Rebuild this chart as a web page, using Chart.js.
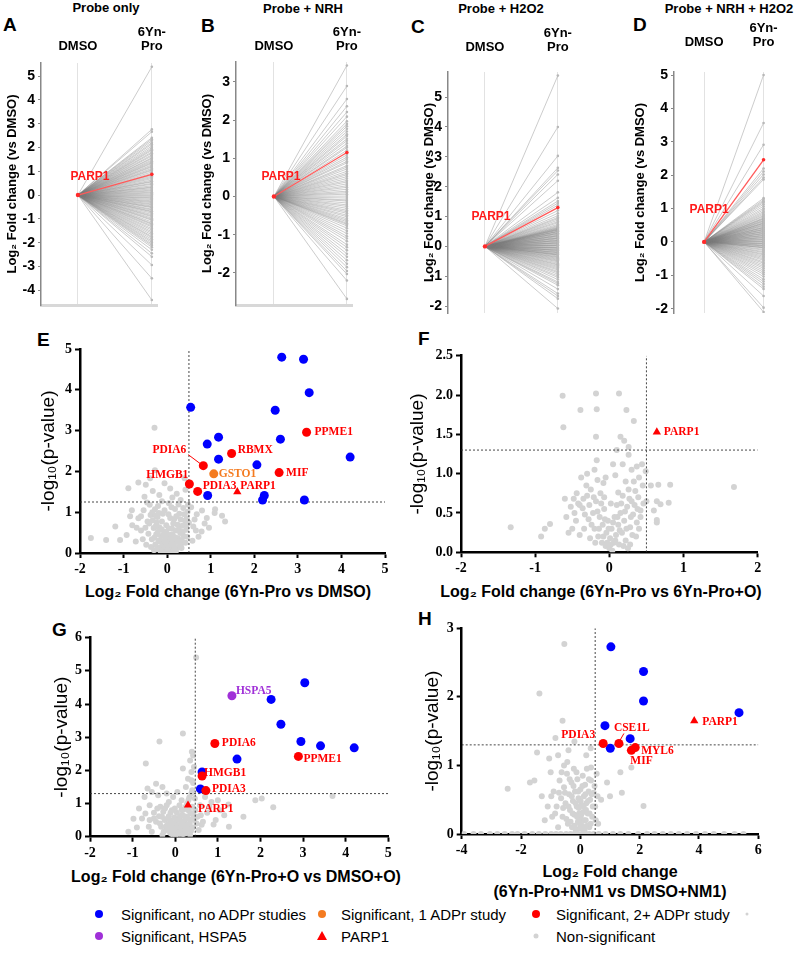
<!DOCTYPE html>
<html>
<head>
<meta charset="utf-8">
<script src="https://cdn.jsdelivr.net/npm/chart.js@4.4.1/dist/chart.umd.min.js"></script>
<style>
  body { margin: 0; background: #fff; }
  #page { position: relative; width: 800px; height: 961px; overflow: hidden; font-family: "Liberation Sans", Arial, sans-serif; }
  canvas { position: absolute; }
  .t { position: absolute; white-space: nowrap; line-height: 1; color: #000; }
  .title { font-weight: bold; font-size: 13px; transform: translateX(-50%); }
  .letter { font-weight: bold; font-size: 19px; }
  .xt { font-weight: bold; font-size: 16px; transform: translate(-50%, -50%); }
  .leg { font-size: 15px; transform: translateY(-50%); }
  .mk { position: absolute; border-radius: 50%; transform: translate(-50%, -50%); }
</style>
</head>
<body>
<div id="page">
  <div class="t title" style="left:106px;top:1px">Probe only</div>
  <div class="t title" style="left:303px;top:2px">Probe + NRH</div>
  <div class="t title" style="left:501px;top:2px">Probe + H2O2</div>
  <div class="t title" style="left:729px;top:2px">Probe + NRH + H2O2</div>

  <div class="t letter" style="left:3px;top:15px">A</div>
  <div class="t letter" style="left:201px;top:16px">B</div>
  <div class="t letter" style="left:411px;top:17px">C</div>
  <div class="t letter" style="left:633px;top:15px">D</div>
  <div class="t letter" style="left:37px;top:330px">E</div>
  <div class="t letter" style="left:418px;top:329px">F</div>
  <div class="t letter" style="left:52px;top:620px">G</div>
  <div class="t letter" style="left:418px;top:609px">H</div>

  <div class="t xt" style="left:228px;top:592px">Log₂ Fold change (6Yn-Pro vs DMSO)</div>
  <div class="t xt" style="left:601px;top:592px">Log₂ Fold change (6Yn-Pro vs 6Yn-Pro+O)</div>
  <div class="t xt" style="left:236px;top:877px">Log₂ Fold change (6Yn-Pro+O vs DMSO+O)</div>
  <div class="t xt" style="left:610px;top:872px">Log₂ Fold change</div>
  <div class="t xt" style="left:610px;top:892px">(6Yn-Pro+NM1 vs DMSO+NM1)</div>

  <!-- legend -->
  <div class="mk" style="left:99px;top:914px;width:8px;height:8px;background:#0000ff"></div>
  <div class="t leg" style="left:121px;top:914px">Significant, no ADPr studies</div>
  <div class="mk" style="left:322px;top:914px;width:8px;height:8px;background:#f47b20"></div>
  <div class="t leg" style="left:341px;top:914px">Significant, 1 ADPr study</div>
  <div class="mk" style="left:536px;top:914px;width:8px;height:8px;background:#ff0000"></div>
  <div class="t leg" style="left:556px;top:914px">Significant, 2+ ADPr study</div>
  <div class="mk" style="left:747px;top:914px;width:3px;height:3px;background:#d3d3d3"></div>
  <div class="mk" style="left:99px;top:936px;width:8px;height:8px;background:#a030d8"></div>
  <div class="t leg" style="left:121px;top:936px">Significant, HSPA5</div>
  <div style="position:absolute;left:317px;top:931px;width:0;height:0;border-left:5px solid transparent;border-right:5px solid transparent;border-bottom:9px solid #ff0000"></div>
  <div class="t leg" style="left:341px;top:936px">PARP1</div>
  <div class="mk" style="left:536px;top:936px;width:5px;height:5px;background:#d3d3d3"></div>
  <div class="t leg" style="left:556px;top:936px">Non-significant</div>
</div>

<script>
// ---------- data: top row, 6Yn-Pro end values (log2 FC vs DMSO) ----------
const colTicks = [0, 1];
const colNames = ['DMSO', ['6Yn-', 'Pro']];

const aVals = [5.39, 2.76, 2.66, 2.41, 2.35, 2.28, 2.2, 2.14, 2.06, 1.99, 1.93, 1.88, 1.81, 1.76, 1.69, 1.64, 1.57, 1.53,
  1.47, 1.42, 1.37, 1.33, 1.27, 1.22, 1.18, 1.12, 1.07, 1.03, 0.97, 0.91, 0.84, 0.79, 0.74, 0.69, 0.63, 0.58, 0.55,
  0.49, 0.45, 0.39, 0.34, 0.31, 0.26, 0.21, 0.17, 0.12, 0.08, 0.03, -0.02, -0.06, -0.11, -0.14, -0.19, -0.24, -0.28,
  -0.32, -0.37, -0.41, -0.46, -0.5, -0.53, -0.59, -0.63, -0.68, -0.71, -0.76, -0.82, -0.87, -0.91, -0.97, -1.02,
  -1.06, -1.13, -1.19, -1.23, -1.29, -1.34, -1.41, -1.47, -1.54, -1.6, -1.67, -1.74, -1.79, -1.86, -1.93, -1.99,
  -2.06, -2.12, -2.19, -2.3, -2.45, -2.59, -2.94, -3.5, -4.41];
const aParp = 0.87;

const bVals = [3.43, 2.89, 2.55, 2.36, 2.21, 2.09, 1.97, 1.9, 1.84, 1.77, 1.7, 1.63, 1.58, 1.51, 1.46, 1.39, 1.32, 1.28,
  1.21, 1.09, 1.03, 0.98, 0.92, 0.88, 0.81, 0.77, 0.72, 0.66, 0.61, 0.57, 0.52, 0.47, 0.42, 0.38, 0.33, 0.28, 0.24,
  0.19, 0.14, 0.1, 0.06, 0.01, -0.04, -0.09, -0.12, -0.17, -0.22, -0.26, -0.31, -0.36, -0.4, -0.44, -0.49, -0.53,
  -0.58, -0.62, -0.66, -0.7, -0.73, -0.77, -0.83, -0.9, -0.97, -1.04, -1.1, -1.17, -1.26, -1.33, -1.41, -1.5, -1.58,
  -1.67, -1.76, -1.85, -1.95, -2.03, -2.2, -2.68];
const bParp = 1.15;

const cVals = [5.72, 4.0, 3.03, 2.63, 2.54, 2.41, 2.2, 1.81, 1.63, 1.52, 1.45, 1.38, 1.2, 1.11, 1.03, 0.97, 0.93, 0.88,
  0.83, 0.79, 0.74, 0.7, 0.67, 0.64, 0.62, 0.6, 0.58, 0.57, 0.55, 0.54, 0.51, 0.5, 0.49, 0.46, 0.44, 0.43, 0.41, 0.38,
  0.36, 0.35, 0.33, 0.3, 0.28, 0.27, 0.25, 0.22, 0.2, 0.19, 0.17, 0.14, 0.12, 0.11, 0.09, 0.06, 0.04, 0.03, 0.01, -0.02,
  -0.04, -0.05, -0.07, -0.1, -0.12, -0.13, -0.15, -0.18, -0.2, -0.21, -0.24, -0.26, -0.28, -0.29, -0.32, -0.35, -0.37,
  -0.4, -0.43, -0.46, -0.49, -0.52, -0.56, -0.6, -0.63, -0.67, -0.71, -0.75, -0.79, -0.84, -0.88, -0.93, -0.99, -1.04,
  -1.11, -1.19, -1.24, -1.3, -1.43, -1.58, -1.66, -1.75, -2.08];
const cParp = 1.3;

const dVals = [5.0, 3.56, 2.91, 2.2, 2.11, 2.02, 1.93, 1.87, 1.31, 1.26, 1.22, 1.18, 1.13, 1.07, 1.01, 0.96, 0.91, 0.87,
  0.83, 0.79, 0.76, 0.72, 0.7, 0.68, 0.65, 0.63, 0.61, 0.58, 0.56, 0.55, 0.52, 0.5, 0.48, 0.45, 0.43, 0.42, 0.39, 0.37,
  0.36, 0.33, 0.31, 0.3, 0.27, 0.25, 0.24, 0.21, 0.19, 0.18, 0.15, 0.13, 0.12, 0.09, 0.07, 0.06, 0.03, 0.01, 0.0,
  -0.03, -0.05, -0.06, -0.09, -0.11, -0.12, -0.15, -0.17, -0.18, -0.22, -0.25, -0.29, -0.32, -0.36, -0.39, -0.43,
  -0.47, -0.51, -0.55, -0.6, -0.64, -0.69, -0.74, -0.79, -0.85, -0.91, -0.97, -1.04, -1.12, -1.19, -1.26, -1.34,
  -1.41, -1.62, -1.97, -2.1];
const dParp = 2.46;

// ---------- data: volcano plots [log2 FC, -log10 p] ----------
const eBlue = [[2.63, 4.8], [3.13, 4.75], [3.26, 3.93], [2.48, 3.5], [0.54, 3.57], [1.18, 2.84], [0.92, 2.67], [2.6, 2.79],
  [1.18, 2.3], [2.06, 2.16], [4.2, 2.35], [0.93, 1.41], [2.23, 1.41], [2.19, 1.3], [3.15, 1.3]];
const eRed = [['PDIA6', 0.83, 2.14], ['RBMX', 1.48, 2.44], ['PPME1', 3.2, 2.96], ['MIF', 2.57, 1.97], ['HMGB1', 0.51, 1.69], ['PDIA3', 0.7, 1.51]];
const eOrange = [['GSTO1', 1.07, 1.94]];
const eParp = [1.61, 1.5];
const eGray = [[-0.29, 3.07], [-0.28, 2.03], [-0.66, 1.73], [-0.89, 1.59], [-0.49, 1.67], [-0.39, 1.83], [-0.06, 1.71],
  [0.07, 1.58], [0.4, 1.83], [0.42, 1.55], [-0.33, 1.52], [-0.18, 1.42], [0.22, 1.45], [0.31, 1.3], [-0.52, 1.38],
  [-0.12, 1.27], [0.12, 1.36], [-1.75, 0.37], [-1.4, 0.32], [-1.19, 0.65], [-1.08, 0.32], [-0.81, 1.05], [-0.66, 0.85],
  [-0.54, 1.05], [-0.28, 1.07], [-0.45, 0.77], [-0.24, 0.75], [-0.8, 0.68], [-0.93, 0.44], [-0.72, 0.28], [-0.6, 0.55],
  [-0.85, 0.9], [-0.4, 1.18], [0.8, 1.04], [0.91, 0.86], [1.1, 1.07], [1.09, 0.98], [1.26, 0.91], [1.33, 0.77], [0.6, 0.65],
  [0.79, 0.53], [0.45, 0.85], [0.68, 0.95], [0.55, 1.12], [0.96, 0.62], [0.72, 0.4], [0.63, 0.82], [0.86, 0.72],
  [-0.5, 0.62], [-0.43, 0.47], [-0.38, 0.93], [-0.35, 0.34], [-0.31, 0.61], [-0.27, 0.21], [-0.25, 0.46], [-0.22, 0.88],
  [-0.2, 0.3], [-0.18, 0.63], [-0.16, 0.14], [-0.14, 0.41], [-0.12, 0.77], [-0.1, 0.24], [-0.08, 0.09], [-0.07, 0.53],
  [-0.05, 0.18], [-0.04, 0.36], [-0.02, 0.05], [0, 0.13], [0.02, 0.27], [0.03, 0.02], [0.05, 0.21], [0.06, 0.44],
  [0.08, 0.1], [0.1, 0.33], [0.11, 0.6], [0.13, 0.16], [0.15, 0.39], [0.16, 0.83], [0.18, 0.26], [0.2, 0.55], [0.22, 0.12],
  [0.24, 0.69], [0.25, 0.36], [0.28, 0.96], [0.3, 0.49], [0.32, 0.22], [0.35, 0.67], [0.37, 1.1], [0.38, 0.41],
  [0.41, 0.79], [0.44, 0.57], [0.47, 1.01], [0.5, 0.74], [-0.46, 1.24], [-0.21, 1.15], [0.04, 1.22], [0.18, 1.08],
  [-0.1, 0.96], [0.26, 1.19], [-0.56, 0.34], [-0.3, 0.07], [0.12, 0.03], [-0.15, 0.04], [0.2, 0.04], [-0.02, 0.68],
  [0.07, 0.86], [-0.33, 0.8], [0.33, 0.12], [-0.48, 0.2], [-0.41, 0.72], [-0.37, 0.15], [-0.34, 1.0], [-0.29, 0.38],
  [-0.26, 0.66], [-0.23, 0.1], [-0.21, 0.52], [-0.19, 0.98], [-0.17, 0.28], [-0.13, 0.58], [-0.11, 0.06], [-0.09, 0.44],
  [-0.06, 0.3], [-0.03, 0.15], [-0.01, 0.48], [0.01, 0.08], [0.04, 0.6], [0.07, 0.35], [0.09, 0.2], [0.12, 0.46],
  [0.14, 0.72], [0.17, 0.12], [0.19, 0.38], [0.21, 0.9], [0.23, 0.28], [0.27, 0.58], [0.29, 0.18], [0.31, 0.82],
  [0.34, 0.3], [0.36, 0.52], [0.39, 0.95], [0.42, 0.25], [0.45, 0.7], [0.48, 1.18], [0.03, 0.95], [-0.06, 1.05],
  [0.1, 1.12], [-0.26, 0.92], [0.46, 0.4], [-0.6, 0.9], [-0.7, 0.62], [0.58, 0.3], [0.66, 0.55]];

const fParp = [0.64, 1.53];
const fGray = [[-0.63, 1.99], [-0.18, 2.02], [0.13, 2.02], [-0.39, 1.81], [-0.17, 1.82], [0.23, 1.81], [0.33, 1.67],
  [-0.62, 1.59], [-0.18, 1.47], [0.15, 1.47], [0.2, 1.42], [0.26, 1.34], [0.26, 1.24], [1.68, 0.83], [-0.17, 1.17],
  [-1.33, 0.32], [-0.87, 0.3], [-0.92, 0.2], [-0.8, 0.36], [0.56, 0.85], [0.66, 0.86], [0.82, 0.86], [0.64, 0.65],
  [0.69, 0.61], [0.8, 0.63], [0.6, 0.53], [0.64, 0.41], [0.64, 0.38], [0.5, 0.65], [0.42, 0.53], [0.44, 1.12], [0.37, 1.09],
  [0.49, 1.03], [0.33, 0.9], [0.1, 1.3], [0.05, 1.12], [-0.48, 0.68], [-0.42, 0.62], [-0.36, 0.56], [-0.3, 0.72],
  [-0.28, 0.42], [-0.25, 0.8], [-0.22, 0.5], [-0.2, 0.3], [-0.18, 0.65], [-0.15, 0.2], [-0.13, 0.45], [-0.1, 0.12],
  [-0.09, 0.35], [-0.07, 0.55], [-0.05, 0.08], [-0.04, 0.25], [-0.02, 0.4], [0, 0.05], [0.01, 0.18], [0.03, 0.3],
  [0.04, 0.02], [0.06, 0.12], [0.07, 0.45], [0.09, 0.22], [0.1, 0.6], [0.12, 0.35], [0.13, 0.1], [0.15, 0.5], [0.17, 0.25],
  [0.18, 0.72], [0.2, 0.4], [0.22, 0.15], [0.24, 0.58], [0.26, 0.8], [0.28, 0.32], [0.3, 0.65], [0.32, 0.48], [0.35, 0.78],
  [0.38, 0.55], [0.4, 0.3], [-0.38, 0.95], [-0.3, 1.0], [-0.2, 1.05], [-0.05, 0.95], [0.08, 0.98], [0.12, 0.76],
  [-0.12, 0.75], [-0.45, 0.4], [-0.52, 0.58], [-0.6, 0.68], [-0.34, 0.3], [-0.26, 0.18], [0.28, 0.1], [0.36, 0.2],
  [-0.08, 0.88], [0.02, 0.62], [-0.16, 0.92], [0.22, 0.9], [0.3, 1.05], [0.18, 1.12], [-0.55, 0.25], [-0.4, 0.22],
  [0.25, 0.05], [-0.07, 0.7], [-0.47, 0.5], [-0.44, 0.75], [-0.4, 0.6], [-0.33, 0.48], [-0.31, 0.85], [-0.27, 0.6],
  [-0.24, 0.35], [-0.21, 0.7], [-0.19, 0.12], [-0.16, 0.52], [-0.14, 0.3], [-0.11, 0.62], [-0.08, 0.2], [-0.06, 0.42],
  [-0.03, 0.12], [-0.01, 0.3], [0.02, 0.1], [0.05, 0.38], [0.08, 0.15], [0.11, 0.45], [0.14, 0.28], [0.16, 0.62],
  [0.19, 0.08], [0.21, 0.52], [0.23, 0.3], [0.27, 0.68], [0.29, 0.45], [0.31, 0.22], [0.34, 0.6], [0.37, 0.38],
  [0.39, 0.7], [0.42, 0.45], [0.45, 0.85], [-0.58, 0.45], [-0.5, 0.3], [-0.35, 0.68], [0.4, 0.95], [0.46, 0.62]];

const gBlue = [[3.04, 4.64], [2.25, 4.14], [2.48, 3.39], [2.95, 2.87], [3.41, 2.74], [4.2, 2.68], [1.45, 2.34], [0.63, 1.95], [0.59, 1.44]];
const gRed = [['PDIA6', 0.93, 2.81], ['PPME1', 2.89, 2.42], ['HMGB1', 0.63, 1.83], ['PDIA3', 0.72, 1.39]];
const gPurple = [['HSPA5', 1.33, 4.25]];
const gParp = [0.3, 0.95];
const gGray = [[0.49, 5.4], [0.18, 3.11], [-0.37, 2.87], [-0.69, 2.21], [0.18, 2.06], [0.39, 2.56], [3.69, 1.23],
  [2.03, 1.15], [1.88, 1.1], [2.3, 0.89], [1.25, 0.97], [-0.98, 0.54], [1.26, 0.3], [0.9, 0.37], [0.35, 2.3], [0.42, 2.45],
  [0.38, 1.95], [0.3, 1.75], [0.42, 1.62], [0.25, 1.5], [0.4, 1.4], [0.33, 1.18], [-0.65, 1.45], [-0.72, 1.2],
  [-0.55, 1.35], [-0.45, 1.6], [-0.4, 1.25], [-0.3, 1.5], [-0.85, 0.85], [-0.6, 0.95], [-0.5, 0.72], [-0.78, 0.55],
  [-0.35, 0.9], [-0.2, 1.3], [-0.15, 1.05], [-0.05, 1.2], [0.05, 1.35], [0.15, 1.1], [0.7, 1.2], [0.85, 1.05], [1.05, 0.8],
  [0.95, 0.5], [1.15, 0.65], [0.75, 0.72], [1.6, 0.6], [0.62, 0.36], [0.8, 0.9], [1.0, 1.1], [0.58, 0.95], [-0.45, 0.45],
  [-0.38, 0.62], [-0.33, 0.3], [-0.28, 0.75], [-0.25, 0.5], [-0.22, 0.2], [-0.2, 0.95], [-0.17, 0.38], [-0.15, 0.62],
  [-0.12, 0.12], [-0.1, 0.48], [-0.08, 0.8], [-0.06, 0.28], [-0.04, 0.05], [-0.02, 0.58], [0, 0.16], [0.02, 0.36],
  [0.04, 0.72], [0.05, 0.08], [0.07, 0.25], [0.09, 0.5], [0.1, 0.95], [0.12, 0.15], [0.14, 0.38], [0.16, 0.66],
  [0.18, 0.22], [0.2, 0.82], [0.22, 0.45], [0.24, 0.1], [0.26, 0.6], [0.28, 1.0], [0.3, 0.32], [0.32, 0.78], [0.35, 0.52],
  [0.37, 0.18], [0.4, 0.9], [0.43, 0.65], [0.46, 1.15], [0.5, 0.4], [-0.55, 0.15], [-0.62, 0.3], [-0.3, 0.05],
  [0.15, 0.02], [0.35, 0.05], [0.55, 0.2], [-0.9, 0.28], [-1.1, 0.15], [-0.5, 0.55], [-0.42, 0.85], [-0.36, 0.4],
  [-0.31, 0.6], [-0.27, 0.15], [-0.24, 0.85], [-0.21, 0.32], [-0.18, 0.55], [-0.14, 0.25], [-0.11, 0.72], [-0.09, 0.08],
  [-0.07, 0.4], [-0.03, 0.22], [-0.01, 0.85], [0.01, 0.05], [0.03, 0.5], [0.06, 0.32], [0.08, 0.12], [0.11, 0.6],
  [0.13, 0.28], [0.15, 0.82], [0.17, 0.45], [0.19, 0.08], [0.21, 0.62], [0.23, 0.3], [0.25, 0.9], [0.27, 0.2],
  [0.29, 0.55], [0.31, 1.1], [0.34, 0.4], [0.36, 0.7], [0.38, 1.3], [0.41, 0.28], [0.44, 0.5], [0.47, 0.8], [0.52, 0.6],
  [0.6, 0.65], [0.65, 0.45], [-0.7, 0.7], [-0.6, 0.5], [0.38, 1.7], [0.44, 2.1]];

const hBlue = [[1.03, 2.73], [2.13, 2.37], [2.13, 1.94], [5.35, 1.77], [0.83, 1.58], [1.68, 1.39], [1.01, 1.25]];
const hRed = [['PDIA3', 0.77, 1.32], ['CSE1L', 1.3, 1.32], ['MYL6', 1.85, 1.26], ['MIF', 1.72, 1.22]];
const hParp = [3.84, 1.65];
const hGray = [[-0.54, 2.77], [-1.38, 2.05], [-0.6, 1.65], [-0.84, 1.4], [-1.46, 1.19], [-2.45, 0.66], [2.13, 0.41],
  [1.35, 0.9], [1.72, 0.97], [0.36, 0.97], [-1.7, 0.75], [-1.55, 0.78], [-1.3, 0.55], [-1.0, 0.9], [-1.05, 1.1],
  [-0.75, 1.15], [1.0, 0.55], [1.4, 0.6], [0.9, 0.75], [-0.2, 1.35], [-0.4, 1.22], [0.2, 1.15], [0.35, 1.25], [-0.55, 1.0],
  [-0.9, 0.62], [-0.8, 0.4], [-0.7, 0.78], [-0.65, 0.52], [-0.6, 0.25], [-0.55, 0.68], [-0.5, 0.45], [-0.45, 0.88],
  [-0.42, 0.15], [-0.38, 0.58], [-0.35, 0.35], [-0.3, 0.75], [-0.28, 0.1], [-0.25, 0.48], [-0.22, 0.95], [-0.2, 0.28],
  [-0.18, 0.62], [-0.15, 0.05], [-0.12, 0.4], [-0.1, 0.8], [-0.08, 0.18], [-0.06, 0.52], [-0.04, 0.3], [-0.02, 0.08],
  [0, 0.65], [0.02, 0.22], [0.04, 0.42], [0.06, 0.12], [0.08, 0.85], [0.1, 0.32], [0.12, 0.55], [0.14, 0.05], [0.16, 0.72],
  [0.18, 0.2], [0.2, 0.45], [0.22, 0.95], [0.25, 0.3], [0.28, 0.62], [0.3, 0.1], [0.33, 0.5], [0.36, 0.78], [0.4, 0.25],
  [0.45, 0.6], [0.5, 0.4], [0.55, 0.88], [0.6, 0.15], [0.7, 0.5], [-0.95, 0.25], [-1.1, 0.4], [-0.75, 0.1],
  [-0.85, 0.3], [-0.72, 0.6], [-0.63, 0.9], [-0.58, 0.38], [-0.52, 0.6], [-0.47, 0.22], [-0.44, 1.05], [-0.4, 0.4],
  [-0.36, 0.8], [-0.33, 0.18], [-0.29, 0.55], [-0.26, 0.3], [-0.23, 0.7], [-0.19, 0.12], [-0.16, 0.45], [-0.13, 0.9],
  [-0.11, 0.25], [-0.07, 0.62], [-0.05, 0.38], [-0.01, 0.15], [0.01, 0.48], [0.03, 0.28], [0.07, 0.7], [0.09, 0.08],
  [0.11, 0.4], [0.13, 0.2], [0.17, 0.58], [0.19, 0.35], [0.23, 0.12], [0.26, 0.48], [0.29, 0.8], [0.31, 0.3],
  [0.35, 0.15], [0.38, 0.58], [0.42, 0.4], [0.48, 0.7], [0.52, 0.2], [0.58, 0.55], [-1.2, 0.2], [-0.98, 0.55],
  [-3.92, 0], [-3.6, 0], [-3.35, 0], [-3.05, 0], [-2.8, 0], [-2.55, 0], [-2.3, 0], [-2.12, 0], [-1.88, 0], [-1.62, 0],
  [-1.4, 0], [-1.18, 0], [-0.98, 0], [-0.82, 0], [-0.66, 0], [-0.48, 0], [-0.33, 0], [-0.2, 0], [-0.08, 0], [0.05, 0],
  [0.18, 0], [0.3, 0], [0.45, 0], [0.62, 0], [0.85, 0], [1.1, 0], [1.35, 0], [1.62, 0], [1.95, 0], [2.25, 0], [2.5, 0],
  [2.78, 0], [3.05, 0], [3.32, 0], [3.6, 0], [3.9, 0], [4.2, 0], [4.5, 0], [4.85, 0], [5.2, 0], [5.5, 0]];

// ---------- styling ----------
const RED = '#ff0000', BLUE = '#0000ff', ORANGE = '#f47b20', PURPLE = '#a030d8', GRAY = '#d3d3d3';
Chart.defaults.font.family = '"Liberation Sans", Arial, sans-serif';

// text next to data points (protein names)
Chart.register({
  id: 'pointLabels',
  afterDatasetsDraw(chart, args, opts) {
    if (!opts || !opts.items) return;
    const { ctx } = chart;
    const xs = chart.scales.x, ys = chart.scales.y;
    ctx.save();
    ctx.font = opts.font;
    ctx.textBaseline = 'middle';
    opts.items.forEach(it => {
      const px = xs.getPixelForValue(it.x), py = ys.getPixelForValue(it.y);
      ctx.fillStyle = it.color;
      ctx.textAlign = it.align || 'left';
      ctx.fillText(it.text, px + it.dx, py + it.dy);
      if (it.leader) {
        ctx.strokeStyle = it.color;
        ctx.lineWidth = 1;
        ctx.beginPath();
        ctx.moveTo(px + it.leader[0], py + it.leader[1]);
        ctx.lineTo(px + it.leader[2], py + it.leader[3]);
        ctx.stroke();
      }
    });
    ctx.restore();
  }
});

function addCanvas(L, T, W, H) {
  const c = document.createElement('canvas');
  c.width = W; c.height = H;
  c.style.left = L + 'px'; c.style.top = T + 'px';
  c.style.width = W + 'px'; c.style.height = H + 'px';
  document.getElementById('page').appendChild(c);
  return c;
}

/******** top row: DMSO -> 6Yn-Pro lines */
function slopePanel(g, vals, parp) {
  const [L, T, W, H] = g.box;
  const [pl, pt, pr, pb] = g.plot;
  const sets = vals.map(v => ({
    data: [{ x: 0, y: 0 }, { x: 1, y: v }],
    showLine: true,
    borderColor: 'rgba(120,120,120,0.38)',
    borderWidth: 1,
    pointRadius: [0, 1.3],
    pointBackgroundColor: '#b8b8b8',
    pointBorderWidth: 0
  }));
  sets.push({
    data: [{ x: 0, y: 0 }, { x: 1, y: parp }],
    showLine: true, borderColor: '#ff5a5a', borderWidth: 1.3,
    pointRadius: [2.2, 1.8], pointBackgroundColor: '#ff2a2a', pointBorderWidth: 0, order: -1
  });
  new Chart(addCanvas(L, T, W, H), {
    type: 'scatter',
    data: { datasets: sets },
    options: {
      responsive: false, animation: false, devicePixelRatio: 1,
      layout: { padding: { left: 0, top: 0, bottom: 0, right: L + W - pr } },
      plugins: {
        legend: { display: false }, tooltip: { enabled: false },
        pointLabels: {
          font: 'bold 12px "Liberation Sans"',
          items: [{ text: 'PARP1', x: 0, y: 0, color: '#ff1a1a', align: 'center', dx: g.lab[0], dy: g.lab[1] }]
        }
      },
      scales: {
        x: {
          type: 'linear', position: 'top', min: g.xMin, max: 1.07,
          afterBuildTicks: s => { s.ticks = colTicks.map(v => ({ value: v })); },
          afterFit: s => { s.height = pt - T; },
          ticks: {
            callback: (v, i) => colNames[i], color: '#000', padding: g.tickPad, maxRotation: 0, autoSkip: false,
            font: { size: 13, weight: 'bold', lineHeight: 1.1 }
          },
          grid: { color: '#e2e2e2', lineWidth: 1, drawTicks: false },
          border: { display: false }
        },
        x2: {
          type: 'linear', position: 'bottom', min: g.xMin, max: 1.07,
          afterFit: s => { s.height = T + H - pb; },
          ticks: { display: false }, grid: { display: false },
          border: { display: g.bottomLine, color: '#d8d8d8', width: 3 }
        },
        y: {
          type: 'linear', min: g.yMin, max: g.yMax,
          afterFit: s => { s.width = pl - L; },
          ticks: { stepSize: 1, includeBounds: false, color: '#000', padding: 3, font: { size: 14, weight: 'bold' } },
          grid: { drawOnChartArea: false, tickLength: 3, tickColor: '#888', tickWidth: 1 },
          border: { color: '#888', width: 1.5 },
          title: { display: true, text: 'Log₂ Fold change (vs DMSO)', color: '#000', padding: { top: 2, bottom: 0 }, font: { size: 13, weight: 'bold' } }
        }
      }
    }
  });
}

slopePanel({ box: [3, 20, 177, 300], plot: [41, 63, 157, 305], xMin: -0.5, yMin: -4.62, yMax: 5.55, tickPad: 9, lab: [12, -18], bottomLine: true }, aVals, aParp);
slopePanel({ box: [198, 20, 177, 300], plot: [236, 62, 352, 305], xMin: -0.52, yMin: -2.84, yMax: 3.52, tickPad: 8, lab: [7, -20], bottomLine: true }, bVals, bParp);
slopePanel({ box: [420, 20, 170, 310], plot: [448, 72, 566, 313], xMin: -0.507, yMin: -2.23, yMax: 5.84, tickPad: 17, lab: [6, -30], bottomLine: false }, cVals, cParp);
slopePanel({ box: [631, 20, 169, 310], plot: [674, 72, 792, 313], xMin: -0.507, yMin: -2.13, yMax: 5.09, tickPad: 22, lab: [5, -32], bottomLine: false }, dVals, dParp);

/******** volcano plots */
const pts = arr => arr.map(p => ({ x: p[p.length - 2], y: p[p.length - 1] }));

function labelItems(list, color, place) {
  return list.map(([name, x, y]) => Object.assign({ text: name, x, y, color, dx: 6, dy: 0 }, place[name] || {}));
}

function volcano(g, c) {
  const [L, T, W, H] = g.box;
  const [pl, pt, pr, pb] = g.plot;
  const dot = (data, color, r) => ({ data: pts(data), backgroundColor: color, pointRadius: r, pointBorderWidth: 0, order: 1 });
  const sets = [];
  if (c.purple) sets.push(dot(c.purple, PURPLE, 4.5));
  if (c.orange) sets.push(dot(c.orange, ORANGE, 4.5));
  if (c.red) sets.push(dot(c.red, RED, 4.5));
  if (c.blue) sets.push(dot(c.blue, BLUE, 4.5));
  sets.push({ data: [{ x: c.parp[0], y: c.parp[1] }], backgroundColor: RED, pointStyle: 'triangle', pointRadius: 4.8, pointBorderWidth: 0, order: 0 });
  const dash = { showLine: true, pointRadius: 0, borderColor: 'rgba(40,40,40,0.85)', borderWidth: 1, borderDash: [2, 2], order: 5 };
  sets.push(Object.assign({ data: [{ x: c.thrX, y: c.yMin }, { x: c.thrX, y: c.yMax }] }, dash));
  sets.push(Object.assign({ data: [{ x: c.xMin, y: c.thrY }, { x: c.xMax, y: c.thrY }] }, dash));
  sets.push({ data: pts(c.gray), backgroundColor: GRAY, pointRadius: 3, pointBorderWidth: 0, order: 10 });

  let items = [];
  if (c.red) items = items.concat(labelItems(c.red, RED, c.place));
  if (c.orange) items = items.concat(labelItems(c.orange, ORANGE, c.place));
  if (c.purple) items = items.concat(labelItems(c.purple, PURPLE, c.place));
  items = items.concat(labelItems([['PARP1', c.parp[0], c.parp[1]]], RED, c.place));

  const tickFont = { family: '"Liberation Serif", "Times New Roman", serif', size: 14, weight: 'bold' };
  new Chart(addCanvas(L, T, W, H), {
    type: 'scatter',
    data: { datasets: sets },
    options: {
      responsive: false, animation: false, devicePixelRatio: 1,
      layout: { padding: { left: 0, bottom: 0, top: pt - T, right: L + W - pr } },
      plugins: {
        legend: { display: false }, tooltip: { enabled: false },
        pointLabels: { font: 'bold 11.5px "Liberation Serif"', items }
      },
      scales: {
        x: {
          type: 'linear', min: c.xMin, max: c.xMax,
          afterFit: s => { s.height = T + H - pb; },
          ticks: { stepSize: c.xStep, color: '#000', padding: 3, font: tickFont },
          grid: { drawOnChartArea: false, tickLength: 5, tickWidth: 2, tickColor: '#000' },
          border: { color: '#000', width: 2.5 }
        },
        y: {
          type: 'linear', min: c.yMin, max: c.yMax,
          afterFit: s => { s.width = pl - L; },
          ticks: { stepSize: c.yStep, color: '#000', padding: 3, font: tickFont, callback: c.yFmt || (v => v) },
          grid: { drawOnChartArea: false, tickLength: 5, tickWidth: 2, tickColor: '#000' },
          border: { color: '#000', width: 2.5 },
          title: { display: true, text: '-log₁₀(p-value)', color: '#000', padding: { top: 2, bottom: 0 }, font: { size: 19 } }
        }
      }
    }
  });
}

volcano({ box: [35, 335, 363, 245], plot: [80, 349, 385, 553] }, {
  xMin: -2, xMax: 5, xStep: 1, yMin: 0, yMax: 5, yStep: 1, thrX: 0.5, thrY: 1.25,
  gray: eGray, blue: eBlue, red: eRed, orange: eOrange, parp: eParp,
  place: {
    PDIA6: { dx: -17, dy: -16, align: 'right', leader: [-15, -11, -3, -2] },
    RBMX: { dx: 6, dy: -3 }, PPME1: { dx: 8, dy: 0 }, MIF: { dx: 7, dy: 0 },
    HMGB1: { dx: -1, dy: -9, align: 'right' }, GSTO1: { dx: 5, dy: 0 },
    PDIA3: { dx: 5, dy: -5 }, PARP1: { dx: 3, dy: -6 }
  }
});

volcano({ box: [404, 335, 368, 245], plot: [461, 355.7, 757.7, 552.3] }, {
  xMin: -2, xMax: 2, xStep: 1, yMin: 0, yMax: 2.5, yStep: 0.5, thrX: 0.5, thrY: 1.3,
  yFmt: v => v.toFixed(1),
  gray: fGray, parp: fParp,
  place: { PARP1: { dx: 7, dy: 0 } }
});

volcano({ box: [48, 622, 354, 244], plot: [90, 637.7, 388.3, 836.7] }, {
  xMin: -2, xMax: 5, xStep: 1, yMin: 0, yMax: 6, yStep: 1, thrX: 0.47, thrY: 1.3,
  gray: gGray, blue: gBlue, red: gRed, purple: gPurple, parp: gParp,
  place: {
    HSPA5: { dx: 4, dy: -5 }, PDIA6: { dx: 7, dy: 0 }, PPME1: { dx: 5, dy: 3 },
    HMGB1: { dx: 2, dy: -3 }, PDIA3: { dx: 6, dy: -2 }, PARP1: { dx: 10, dy: 4 }
  }
});

volcano({ box: [419, 615, 353, 247], plot: [461.7, 628.3, 758.3, 834] }, {
  xMin: -4, xMax: 6, xStep: 2, yMin: 0, yMax: 3, yStep: 1, thrX: 0.5, thrY: 1.3,
  gray: hGray, blue: hBlue, red: hRed, parp: hParp,
  place: {
    PDIA3: { dx: -8, dy: -8, align: 'right' },
    CSE1L: { dx: -5, dy: -15, leader: [5, -10, 1, -3] },
    MYL6: { dx: 6, dy: 3 }, MIF: { dx: -1, dy: 11 }, PARP1: { dx: 8, dy: 1 }
  }
});
</script>
</body>
</html>
